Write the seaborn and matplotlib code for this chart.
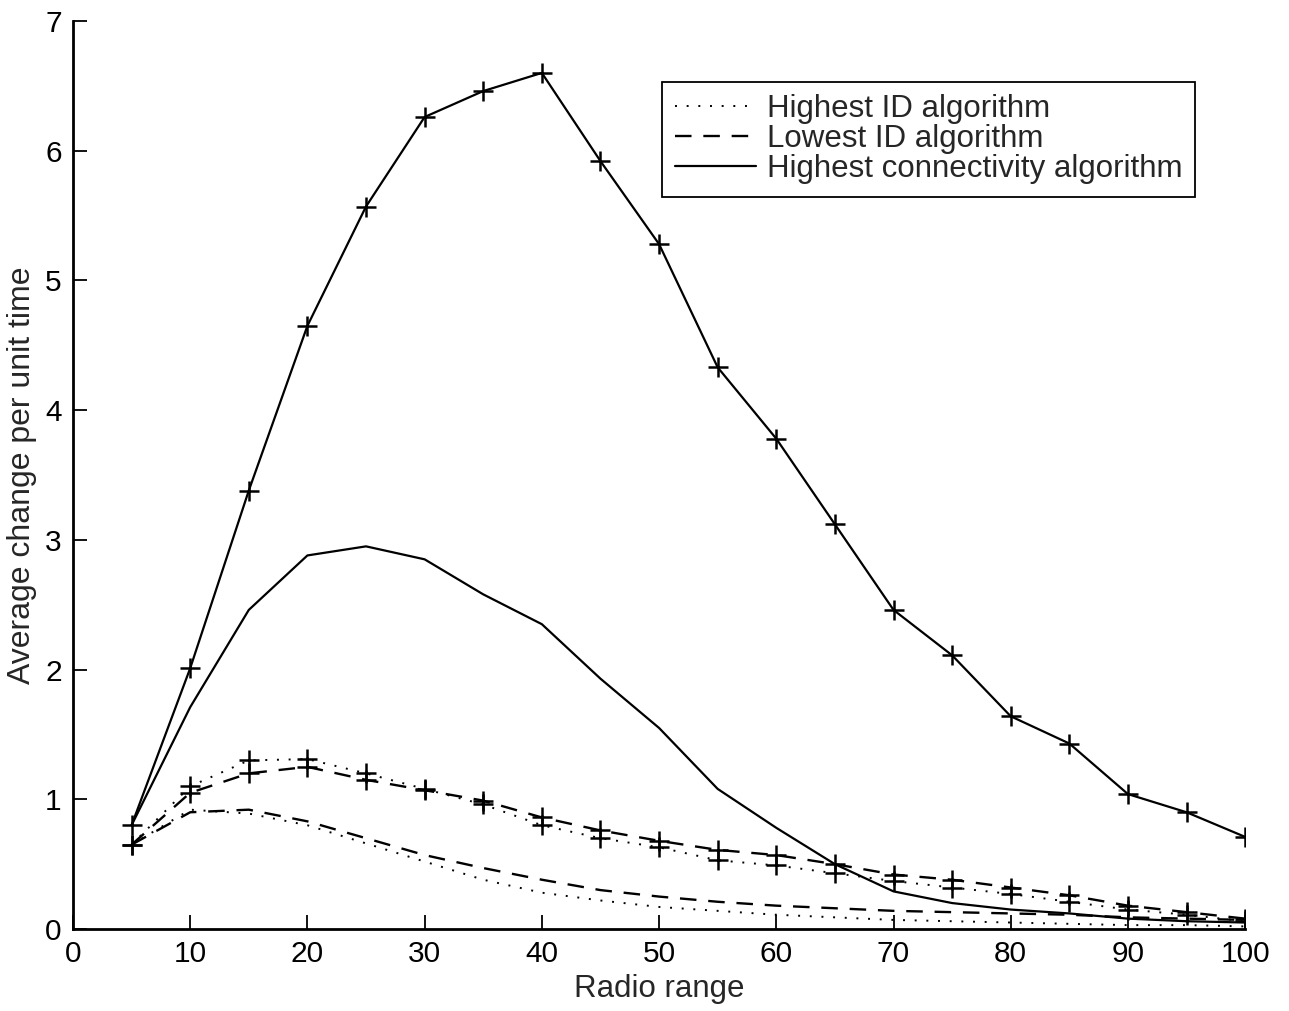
import matplotlib
matplotlib.use("Agg")
import matplotlib.pyplot as plt
import seaborn as sns
import pandas as pd
from matplotlib.lines import Line2D

radio_range = [5, 10, 15, 20, 25, 30, 35, 40, 45, 50, 55, 60, 65, 70, 75, 80, 85, 90, 95, 100]

# series with "+" markers
highest_id_marked = [0.65, 1.10, 1.30, 1.31, 1.20, 1.08, 0.96, 0.80, 0.70, 0.63, 0.53, 0.49, 0.43, 0.37, 0.32, 0.27, 0.21, 0.15, 0.11, 0.06]
lowest_id_marked = [0.65, 1.05, 1.20, 1.25, 1.15, 1.07, 0.99, 0.86, 0.76, 0.68, 0.61, 0.57, 0.50, 0.42, 0.38, 0.32, 0.26, 0.18, 0.13, 0.08]
highest_conn_marked = [0.80, 2.01, 3.38, 4.65, 5.57, 6.26, 6.46, 6.60, 5.92, 5.28, 4.33, 3.78, 3.12, 2.46, 2.11, 1.64, 1.43, 1.04, 0.90, 0.71]

# series without markers
highest_id_plain = [0.65, 0.92, 0.89, 0.80, 0.66, 0.52, 0.38, 0.28, 0.22, 0.17, 0.14, 0.11, 0.09, 0.07, 0.06, 0.05, 0.04, 0.03, 0.03, 0.02]
lowest_id_plain = [0.65, 0.90, 0.92, 0.83, 0.70, 0.57, 0.47, 0.38, 0.30, 0.25, 0.21, 0.18, 0.16, 0.14, 0.13, 0.12, 0.11, 0.09, 0.08, 0.07]
highest_conn_plain = [0.80, 1.71, 2.46, 2.88, 2.95, 2.85, 2.58, 2.35, 1.93, 1.55, 1.08, 0.78, 0.50, 0.29, 0.20, 0.15, 0.12, 0.08, 0.06, 0.05]

labels = ["Highest ID algorithm", "Lowest ID algorithm", "Highest connectivity algorithm"]
x_ticks = [0, 10, 20, 30, 40, 50, 60, 70, 80, 90, 100]
y_ticks = [0, 1, 2, 3, 4, 5, 6, 7]

sns.set_style("ticks")
plt.rcParams["font.family"] = ["Liberation Sans", "DejaVu Sans"]

fig = plt.figure(figsize=(12.89, 10.11), dpi=100)
ax = fig.add_axes([0.0566, 0.0811, 0.9094, 0.8981])

styles = [(0, (1, 5)), (0, (7, 5)), "-"]
lws = [1.4, 1.7, 1.6]

for vals, ls, lw in zip([highest_id_marked, lowest_id_marked, highest_conn_marked], styles, lws):
    df = pd.DataFrame({"x": radio_range, "y": vals})
    sns.lineplot(data=df, x="x", y="y", ax=ax, color="black", linestyle=ls, lw=lw,
                 marker="+", markersize=14, markeredgewidth=1.8,
                 markeredgecolor="black", markerfacecolor="black", legend=False)

for vals, ls, lw in zip([highest_id_plain, lowest_id_plain, highest_conn_plain], styles, lws):
    df = pd.DataFrame({"x": radio_range, "y": vals})
    sns.lineplot(data=df, x="x", y="y", ax=ax, color="black", linestyle=ls, lw=lw, legend=False)

ax.set_xlim(0, 100)
ax.set_ylim(0, 7)
ax.set_xticks(x_ticks)
ax.set_yticks(y_ticks)
ax.tick_params(direction="in", length=10, width=1.3, labelsize=21.5, pad=8, colors="black")
for s in ["top", "right"]:
    ax.spines[s].set_visible(False)
for s in ["left", "bottom"]:
    ax.spines[s].set_linewidth(2.0)
    ax.spines[s].set_color("black")

ax.set_xlabel("Radio range", fontsize=22.5, labelpad=4)
ax.set_ylabel("Average change per unit time", fontsize=23, labelpad=6)

handles = [Line2D([], [], color="black", linestyle=ls, lw=lw) for ls, lw in zip(styles, lws)]
leg = ax.legend(handles, labels, loc="upper right", bbox_to_anchor=(0.957, 0.933), borderaxespad=0,
                fontsize=22.5, frameon=True, fancybox=False, edgecolor="black", framealpha=1,
                labelspacing=0.0, handlelength=2.6, handletextpad=0.35, borderpad=0.4)
leg.get_frame().set_linewidth(1.3)

fig.savefig("out.png", dpi=100)
